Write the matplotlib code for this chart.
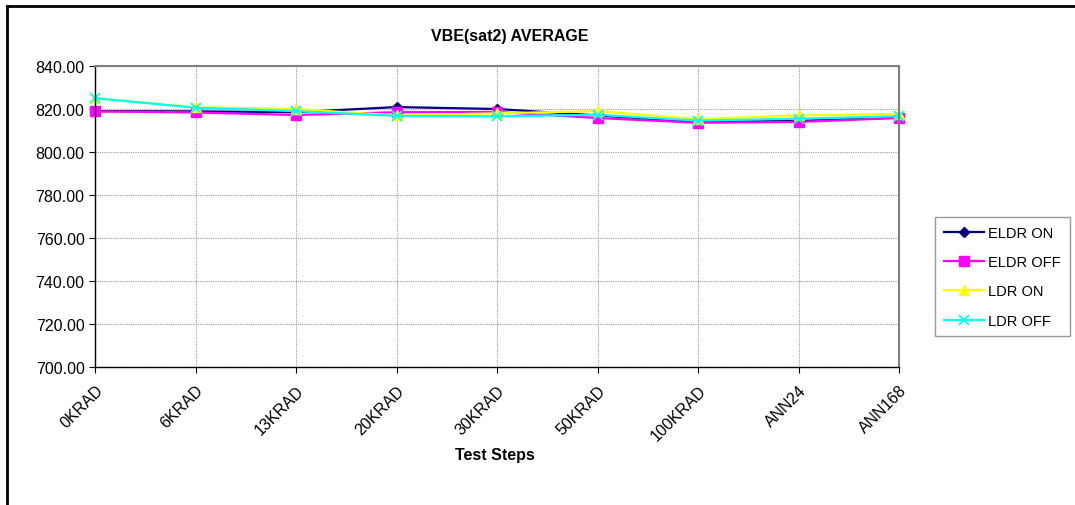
import matplotlib.pyplot as plt
from matplotlib.lines import Line2D

plt.rcParams['font.family'] = ['Liberation Sans', 'DejaVu Sans']

steps = ['0KRAD', '6KRAD', '13KRAD', '20KRAD', '30KRAD', '50KRAD', '100KRAD', 'ANN24', 'ANN168']
eldr_on = [819.0, 818.9, 818.5, 820.9, 820.0, 817.0, 814.0, 814.5, 816.0]
eldr_off = [818.9, 818.4, 817.2, 818.5, 818.6, 815.8, 813.6, 814.0, 815.8]
ldr_on = [825.1, 820.8, 820.0, 817.0, 818.0, 819.0, 815.3, 817.0, 817.7]
ldr_off = [825.0, 820.6, 819.0, 816.8, 816.6, 817.3, 814.6, 815.5, 816.6]
yticks = [700, 720, 740, 760, 780, 800, 820, 840]

fs = 11.5
fig = plt.figure(figsize=(10.75, 5.06), dpi=100)
ax = fig.add_axes([95/1075, 1 - 368/506, (899 - 95)/1075, (368 - 67)/506])

x = list(range(len(steps)))
ax.plot(x, eldr_on, color='#000080', marker='D', markersize=5, lw=1.6, label='ELDR ON', clip_on=False)
ax.plot(x, eldr_off, color='#ff00ff', marker='s', markersize=7, lw=1.6, label='ELDR OFF', clip_on=False)
ax.plot(x, ldr_on, color='#ffff00', marker='^', markersize=7, lw=1.6, label='LDR ON', clip_on=False)
ax.plot(x, ldr_off, color='#00ffff', marker='x', markersize=7, mew=1.3, lw=1.6, label='LDR OFF', clip_on=False)

ax.set_xlim(0, len(steps) - 1)
ax.set_ylim(700, 840)
ax.set_yticks(yticks)
ax.set_yticklabels(['%.2f' % v for v in yticks], fontsize=fs)
ax.set_xticks(x)
ax.set_xticklabels(steps, rotation=45, ha='right', rotation_mode='anchor', fontsize=fs)
ax.tick_params(axis='both', direction='out', length=4, width=0.8, colors='black')
ax.tick_params(axis='x', pad=7)

ax.grid(True, color='#999999', lw=0.8, ls=(0, (1, 1)))
ax.set_axisbelow(True)
for s in ['top', 'right']:
    ax.spines[s].set_color('#808080')
    ax.spines[s].set_linewidth(1.5)
for s in ['left', 'bottom']:
    ax.spines[s].set_color('black')
    ax.spines[s].set_linewidth(1.0)

fig.text(510/1075, 1 - 37/506, 'VBE(sat2) AVERAGE', ha='center', va='center',
         fontsize=fs, fontweight='bold')
fig.text(495/1075, 1 - 456/506, 'Test Steps', ha='center', va='center',
         fontsize=fs, fontweight='bold')

leg = ax.legend(loc='upper left', bbox_to_anchor=(935/1075, 1 - 218/506),
                bbox_transform=fig.transFigure, borderaxespad=0, fancybox=False,
                fontsize=10.5, handlelength=2.75, handletextpad=0.3, labelspacing=1.05,
                borderpad=0.6, frameon=True)
leg.get_frame().set_edgecolor('#808080')
leg.get_frame().set_linewidth(1.0)

# outer chart border (top and left visible)
fig.add_artist(Line2D([7/1075, 1.0], [1 - 7/506, 1 - 7/506], transform=fig.transFigure,
                      color='black', lw=2))
fig.add_artist(Line2D([7/1075, 7/1075], [0.0, 1 - 7/506], transform=fig.transFigure,
                      color='black', lw=2))

fig.savefig('out.png', dpi=100)
